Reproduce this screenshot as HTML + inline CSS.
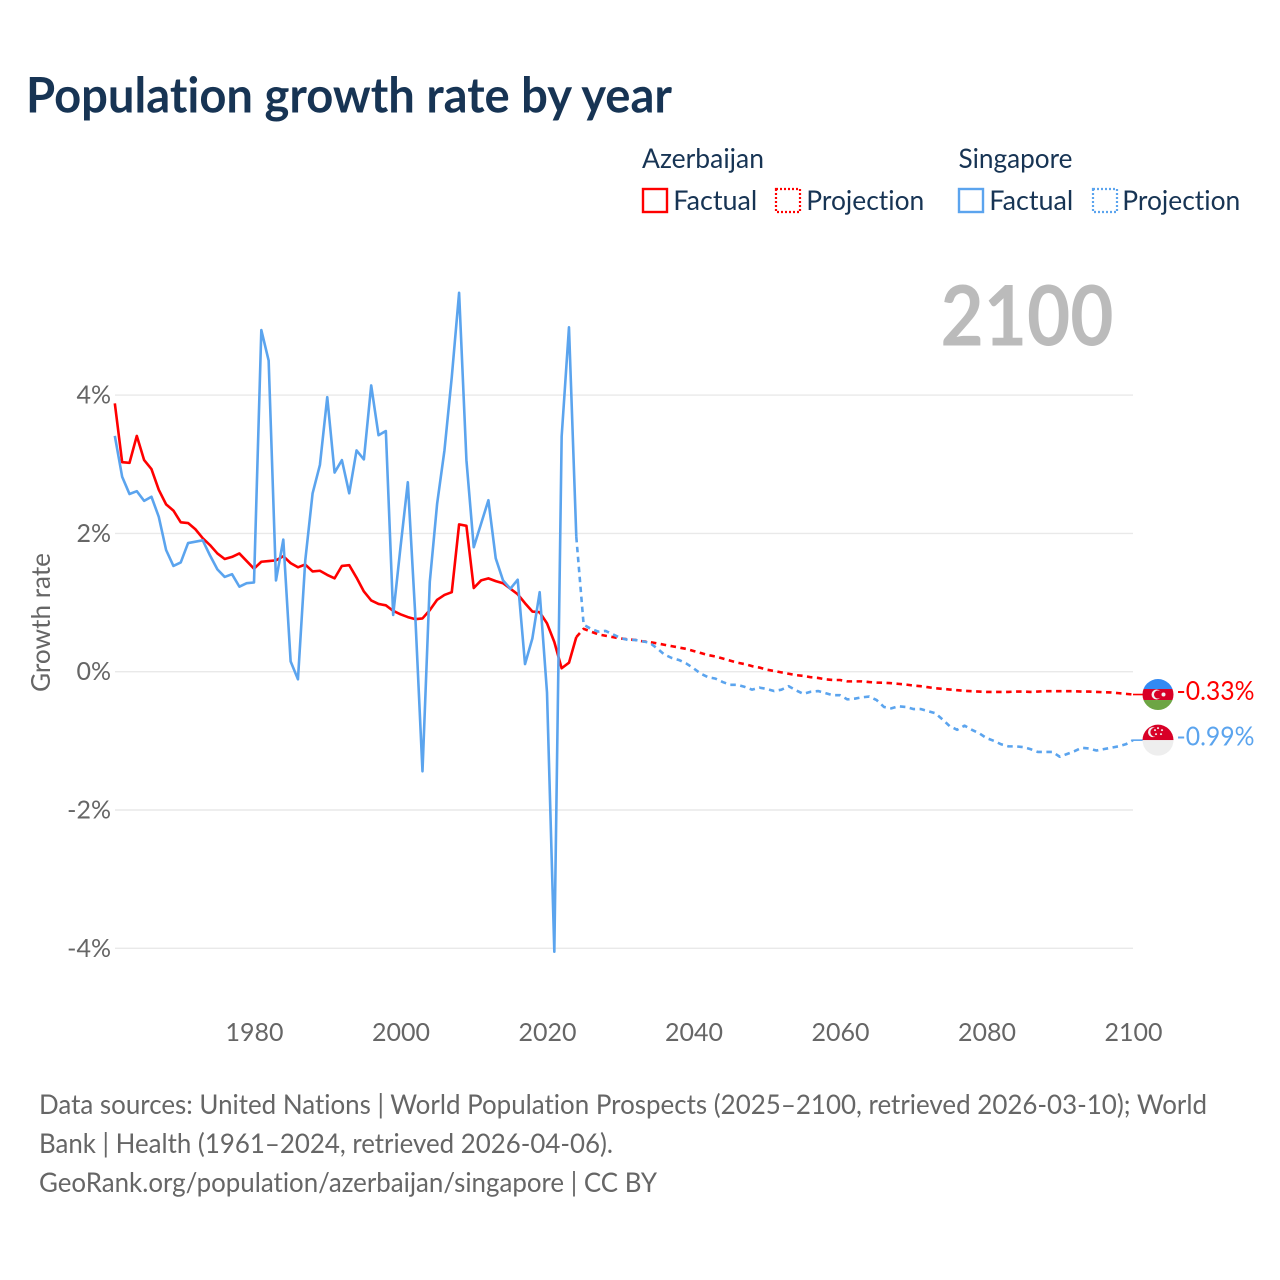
<!DOCTYPE html>
<html lang="en">
<head>
<meta charset="utf-8">
<title>Population growth rate by year</title>
<style>
html,body{margin:0;padding:0;background:#fff;width:1280px;height:1280px;overflow:hidden}
svg{display:block}
text{font-family:"Lato","Carlito","Liberation Sans",sans-serif;font-variant-ligatures:none;font-feature-settings:"liga" 0,"clig" 0}
</style>
</head>
<body>
<svg id="chart" xmlns="http://www.w3.org/2000/svg" width="1280" height="1280" viewBox="0 0 1280 1280">
<rect width="1280" height="1280" fill="#fff"/>
<text x="26" y="112.5" font-size="48.5" font-weight="700" fill="#173454" textLength="646" lengthAdjust="spacingAndGlyphs">Population growth rate by year</text>

<g>
<text x="642" y="168" font-size="27" fill="#173454" textLength="122" lengthAdjust="spacingAndGlyphs">Azerbaijan</text>
<text x="958.5" y="168" font-size="27" fill="#173454" textLength="114" lengthAdjust="spacingAndGlyphs">Singapore</text>
<rect x="643" y="189" width="24" height="23" fill="none" stroke="#ff0000" stroke-width="2.4"/>
<text x="673.3" y="210" font-size="27" fill="#173454" textLength="84" lengthAdjust="spacingAndGlyphs">Factual</text>
<rect x="776" y="189" width="24" height="23" fill="none" stroke="#ff0000" stroke-width="2.2" stroke-dasharray="2 2"/>
<text x="806.3" y="210" font-size="27" fill="#173454" textLength="118" lengthAdjust="spacingAndGlyphs">Projection</text>
<rect x="959" y="189" width="24" height="23" fill="none" stroke="#5ba4ee" stroke-width="2.4"/>
<text x="989.3" y="210" font-size="27" fill="#173454" textLength="84" lengthAdjust="spacingAndGlyphs">Factual</text>
<rect x="1093" y="189" width="24" height="23" fill="none" stroke="#5ba4ee" stroke-width="2.2" stroke-dasharray="2 2"/>
<text x="1122.3" y="210" font-size="27" fill="#173454" textLength="118" lengthAdjust="spacingAndGlyphs">Projection</text>
</g>

<text x="940.5" y="345.5" font-size="83" font-weight="700" fill="#bbbbbb" textLength="173" lengthAdjust="spacingAndGlyphs">2100</text>
<text transform="translate(50,692) rotate(-90)" x="0" y="0" font-size="26" fill="#666666" textLength="139" lengthAdjust="spacingAndGlyphs">Growth rate</text>

<g id="grid"></g>
<g id="yticks"></g>
<g id="xticks"></g>
<g id="series"></g>
<g id="ends"></g>

<g>
<text x="39" y="1114" font-size="27" fill="#666666" textLength="1168" lengthAdjust="spacingAndGlyphs">Data sources: United Nations | World Population Prospects (2025–2100, retrieved 2026-03-10); World</text>
<text x="39" y="1153" font-size="27" fill="#666666" textLength="574" lengthAdjust="spacingAndGlyphs">Bank | Health (1961–2024, retrieved 2026-04-06).</text>
<text x="39" y="1192" font-size="27" fill="#666666" textLength="618" lengthAdjust="spacingAndGlyphs">GeoRank.org/population/azerbaijan/singapore | CC BY</text>
</g>
</svg>

<script>
var firstFactualYear = 1961;
var firstProjectionYear = 2025;
var xTickYears = [1980, 2000, 2020, 2040, 2060, 2080, 2100];
var yTickValues = [4, 2, 0, -2, -4];
var yTickLabels = ["4%", "2%", "0%", "-2%", "-4%"];

var azerbaijanFactual = [
3.88,3.03,3.02,3.41,3.06,2.93,2.63,2.42,2.33,2.16,
2.15,2.06,1.93,1.83,1.71,1.63,1.66,1.71,1.60,1.49,
1.59,1.60,1.61,1.67,1.57,1.51,1.55,1.45,1.46,1.40,
1.35,1.53,1.54,1.36,1.16,1.03,0.98,0.96,0.88,0.83,
0.79,0.76,0.77,0.89,1.04,1.11,1.15,2.13,2.11,1.21,
1.32,1.35,1.31,1.28,1.20,1.12,0.99,0.87,0.86,0.70,
0.43,0.05,0.13,0.50];
var singaporeFactual = [
3.41,2.82,2.57,2.61,2.47,2.53,2.24,1.76,1.53,1.58,
1.86,1.88,1.90,1.68,1.48,1.37,1.41,1.23,1.28,1.29,
4.94,4.50,1.32,1.91,0.15,-0.11,1.61,2.58,2.99,3.97,
2.88,3.06,2.58,3.20,3.07,4.14,3.42,3.48,0.82,1.80,
2.74,0.85,-1.44,1.30,2.43,3.20,4.26,5.48,3.06,1.80,
2.14,2.48,1.64,1.32,1.20,1.33,0.11,0.48,1.15,-0.30,
-4.05,3.40,4.98,1.95];
var azerbaijanProjection = [
0.62,0.58,0.54,0.52,0.50,0.48,0.47,0.46,0.44,0.43,
0.41,0.39,0.37,0.35,0.33,0.30,0.27,0.24,0.22,0.19,
0.16,0.13,0.11,0.08,0.06,0.03,0.01,-0.01,-0.03,-0.05,
-0.06,-0.08,-0.09,-0.11,-0.12,-0.12,-0.14,-0.14,-0.14,-0.15,
-0.157,-0.16,-0.166,-0.176,-0.186,-0.20,-0.21,-0.224,-0.239,-0.248,
-0.258,-0.268,-0.277,-0.282,-0.287,-0.292,-0.292,-0.292,-0.292,-0.287,
-0.287,-0.292,-0.287,-0.282,-0.282,-0.282,-0.282,-0.282,-0.287,-0.287,
-0.292,-0.297,-0.30,-0.31,-0.32,-0.33];
var singaporeProjection = [
0.68,0.62,0.58,0.59,0.54,0.49,0.46,0.46,0.44,0.42,
0.34,0.25,0.20,0.17,0.12,0.05,-0.03,-0.08,-0.10,-0.15,
-0.19,-0.19,-0.22,-0.26,-0.23,-0.25,-0.28,-0.26,-0.21,-0.27,
-0.32,-0.29,-0.28,-0.31,-0.34,-0.34,-0.40,-0.39,-0.37,-0.36,
-0.41,-0.51,-0.53,-0.50,-0.51,-0.54,-0.54,-0.57,-0.60,-0.69,
-0.79,-0.84,-0.78,-0.84,-0.89,-0.96,-1.00,-1.05,-1.08,-1.08,
-1.09,-1.12,-1.16,-1.16,-1.16,-1.23,-1.19,-1.15,-1.10,-1.11,
-1.14,-1.12,-1.10,-1.08,-1.05,-0.99];
var endLabels = ["-0.33%", "-0.99%"];

var NS = "http://www.w3.org/2000/svg";
function xScale(year){ return 1133 - (2100 - year) * 7.325; }
function yScale(value){ return 671.7 - value * 69.15; }
function make(parent, tag, attrs, text){
  var el = document.createElementNS(NS, tag);
  for (var k in attrs) el.setAttribute(k, attrs[k]);
  if (text !== undefined) el.textContent = text;
  parent.appendChild(el);
  return el;
}
function pointsFrom(startYear, values, prefix){
  var pts = prefix ? prefix.slice() : [];
  values.forEach(function(v, i){
    pts.push(xScale(startYear + i).toFixed(2) + "," + yScale(v).toFixed(2));
  });
  return pts;
}

var grid = document.getElementById("grid");
var yticks = document.getElementById("yticks");
var xticks = document.getElementById("xticks");
var seriesG = document.getElementById("series");
var ends = document.getElementById("ends");

yTickValues.forEach(function(v, i){
  var line = make(grid, "line", {x1: 115, x2: 1133, y1: yScale(v), y2: yScale(v), stroke: "#e9e9e9", "stroke-width": 1.4});
  
  
  var label = make(yticks, "text", {x: 111, y: yScale(v) + 8.5, "text-anchor": "end", "font-size": 25, fill: "#666666"}, yTickLabels[i]);
  
  
});
xTickYears.forEach(function(year){
  var label = make(xticks, "text", {x: xScale(year) + 0.5, y: 1041, "text-anchor": "middle", "font-size": 25, fill: "#666666"}, String(year));
  
  
});

function drawSeries(factual, projection, color, key){
  var fPts = pointsFrom(firstFactualYear, factual);
  var f = make(seriesG, "polyline", {points: fPts.join(" "), fill: "none", stroke: color, "stroke-width": 2.6, "stroke-linejoin": "round"});
  
  
  var pPts = pointsFrom(firstProjectionYear, projection, [fPts[fPts.length - 1]]);
  var p = make(seriesG, "polyline", {points: pPts.join(" "), fill: "none", stroke: color, "stroke-width": 2.6, "stroke-dasharray": "5.5 4.5", "stroke-linejoin": "round"});
  
  
}
drawSeries(azerbaijanFactual, azerbaijanProjection, "#ff0000", "azerbaijan");
drawSeries(singaporeFactual, singaporeProjection, "#5ba4ee", "singapore");

var clipDefs = make(document.getElementById("chart"), "defs", {});
function drawEnd(lastValue, color, text, key, bands){
  var cy = yScale(lastValue);
  var lead = make(ends, "line", {x1: 1133, x2: 1143, y1: cy, y2: cy, stroke: color, "stroke-width": 1.6});
  
  
  var clip = make(clipDefs, "clipPath", {id: "clip-" + key});
  make(clip, "circle", {cx: 1158, cy: cy, r: 15.5});
  var g = make(ends, "g", {"clip-path": "url(#clip-" + key + ")"});
  
  
  bands.forEach(function(b){
    make(g, "rect", {x: 1142, y: cy + b[0], width: 32, height: b[1], fill: b[2]});
  });
  if (key === "azerbaijan") {
    make(g, "circle", {cx: 1156.5, cy: cy, r: 5, fill: "#f0f0f0"});
    make(g, "circle", {cx: 1158, cy: cy, r: 4, fill: "#d80027"});
    make(g, "circle", {cx: 1163.5, cy: cy, r: 2, fill: "#f0f0f0"});
  } else {
    make(g, "circle", {cx: 1153, cy: cy - 8, r: 5, fill: "#f0f0f0"});
    make(g, "circle", {cx: 1155, cy: cy - 8, r: 4.6, fill: "#d80027"});
    [[1158,-12],[1162,-10],[1161,-6],[1156,-6],[1155,-10]].forEach(function(s){
      make(g, "circle", {cx: s[0], cy: cy + s[1], r: 1, fill: "#f0f0f0"});
    });
  }
  var label = make(ends, "text", {x: 1176.5, y: cy + 5.5, "font-size": 26, fill: color, textLength: 78, lengthAdjust: "spacingAndGlyphs"}, text);
  
  
}
drawEnd(azerbaijanProjection[azerbaijanProjection.length - 1], "#ff0000", endLabels[0], "azerbaijan",
  [[-16, 10.5, "#338af3"], [-5.5, 11, "#d80027"], [5.5, 11, "#6da544"]]);
drawEnd(singaporeProjection[singaporeProjection.length - 1], "#5ba4ee", endLabels[1], "singapore",
  [[-16, 16, "#d80027"], [0, 16, "#eeeeee"]]);
</script>
</body>
</html>
